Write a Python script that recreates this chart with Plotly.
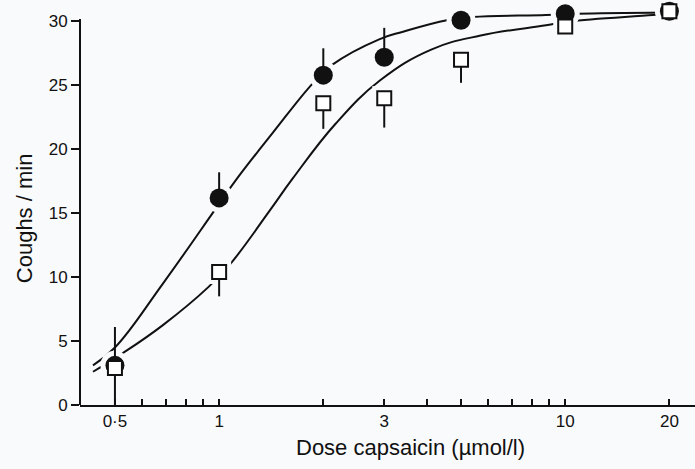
import plotly.graph_objects as go

# ---- data ----
dose = [0.5, 1, 2, 3, 5, 10, 20]

# filled circles (mean coughs/min) and upward error (SEM)
circle_y = [3.1, 16.2, 25.8, 27.2, 30.1, 30.6, 30.8]
circle_err_up = [3.0, 2.0, 2.1, 2.3, 0, 0, 0]

# open squares (mean coughs/min) and downward error (SEM)
square_y = [2.9, 10.4, 23.6, 24.0, 27.0, 29.6, 30.8]
square_err_down = [2.9, 1.9, 2.0, 2.3, 1.8, 0, 0]

# fitted curves, points
upper_x = [0.432, 0.5, 0.688, 0.986, 1.126, 1.43, 1.87, 2.12, 2.9, 3.4, 4.55, 5.4, 8.8, 10.8, 19.5]
upper_y = [3.1, 4.5, 9.5, 15.5, 17.7, 21.3, 25.2, 26.6, 28.6, 29.2, 30.1, 30.35, 30.5, 30.6, 30.7]

lower_x = [0.432, 0.527, 0.688, 0.929, 1.075, 1.40, 1.63, 2.17, 2.92, 4.1, 5.7, 8.8, 10.3, 17.9, 19.5]
lower_y = [2.6, 4.06, 6.25, 9.2, 11.0, 15.2, 17.7, 22.0, 25.4, 27.8, 28.9, 29.7, 30.0, 30.5, 30.6]

x_tickvals = [0.5, 0.6, 0.7, 0.8, 0.9, 1, 2, 3, 4, 5, 6, 7, 8, 9, 10, 20]
x_ticktext = ["0·5", "", "", "", "", "1", "", "3", "", "", "", "", "", "", "10", "20"]
y_tickvals = [0, 5, 10, 15, 20, 25, 30]
y_ticktext = ["0", "5", "10", "15", "20", "25", "30"]

x_title = "Dose capsaicin (µmol/l)"
y_title = "Coughs / min"

BG = "#f9fafb"
INK = "#111111"
FONT = "Liberation Sans"

fig = go.Figure()

# curves
for cx, cy in ((upper_x, upper_y), (lower_x, lower_y)):
    fig.add_trace(go.Scatter(
        x=cx, y=cy, mode="lines",
        line=dict(color=INK, width=2, shape="spline", smoothing=1.2),
        hoverinfo="skip", showlegend=False,
    ))

# background-coloured halos that break the curves around the symbols
fig.add_trace(go.Scatter(
    x=dose, y=circle_y, mode="markers",
    marker=dict(symbol="circle", size=29, color=BG, line=dict(width=0)),
    hoverinfo="skip", showlegend=False,
))
fig.add_trace(go.Scatter(
    x=dose, y=square_y, mode="markers",
    marker=dict(symbol="square", size=24, color=BG, line=dict(width=0)),
    hoverinfo="skip", showlegend=False,
))

# filled circles
fig.add_trace(go.Scatter(
    x=dose, y=circle_y, mode="markers",
    marker=dict(symbol="circle", size=19, color=INK, line=dict(width=0)),
    error_y=dict(type="data", symmetric=False, array=circle_err_up,
                 arrayminus=[0] * len(dose), color=INK, thickness=2, width=0),
    showlegend=False, cliponaxis=False,
))

# open squares
fig.add_trace(go.Scatter(
    x=dose, y=square_y, mode="markers",
    marker=dict(symbol="square", size=14, color="white", line=dict(color=INK, width=2)),
    error_y=dict(type="data", symmetric=False, array=[0] * len(dose),
                 arrayminus=square_err_down, color=INK, thickness=2, width=0),
    showlegend=False, cliponaxis=False,
))

# y-axis line stopping at 30
fig.add_shape(type="line", xref="paper", x0=0, x1=0, yref="y", y0=0, y1=30.2,
              line=dict(color=INK, width=2))

# axis titles as annotations (positioned as in the reference)
fig.add_annotation(text=x_title, xref="paper", yref="paper", x=0.538, y=-0.104,
                   xanchor="center", yanchor="middle", showarrow=False,
                   font=dict(size=22, family=FONT, color=INK))
fig.add_annotation(text=y_title, xref="paper", yref="paper", x=-0.089, y=0.463,
                   xanchor="center", yanchor="middle", showarrow=False, textangle=-90,
                   font=dict(size=22, family=FONT, color=INK))

fig.update_layout(
    width=695, height=469,
    margin=dict(l=80, r=0, t=1, b=64),
    paper_bgcolor=BG, plot_bgcolor=BG,
    font=dict(family=FONT, color=INK, size=17),
    showlegend=False,
)
fig.update_xaxes(
    type="log", range=[-0.402, 1.375],
    showline=True, linecolor=INK, linewidth=2,
    showgrid=False, zeroline=False,
    ticks="inside", ticklen=6, tickwidth=1.5, tickcolor=INK,
    tickvals=x_tickvals, ticktext=x_ticktext,
    tickfont=dict(size=17),
)
fig.update_yaxes(
    range=[0, 31.6],
    showline=False, showgrid=False, zeroline=False,
    ticks="outside", ticklen=8, tickwidth=1.5, tickcolor=INK,
    tickvals=y_tickvals, ticktext=y_ticktext,
    tickfont=dict(size=17),
)

fig.write_html("out.html")
